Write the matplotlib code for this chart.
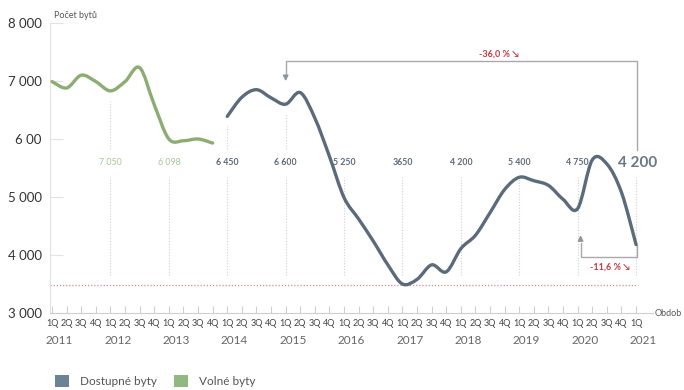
import matplotlib
matplotlib.use('Agg')
import matplotlib.pyplot as plt
from matplotlib.path import Path
from matplotlib.patches import PathPatch, Patch

plt.rcParams['font.family'] = ['Lato', 'DejaVu Sans']

# quarters 2011 Q1 (index 0) .. 2021 Q1 (index 40)
green_q = list(range(0, 12))
green_vals = [6990, 6880, 7100, 6990, 6830, 6990, 7230, 6590, 6000, 5970, 6000, 5930]
blue_q = list(range(12, 41))
blue_vals = [6390, 6720, 6850, 6710, 6600, 6800, 6360, 5700, 4990, 4620, 4240, 3830,
             3500, 3580, 3830, 3710, 4110, 4340, 4730, 5130, 5340, 5280, 5200, 4960,
             4800, 5640, 5570, 5080, 4180]

years = ['2011', '2012', '2013', '2014', '2015', '2016', '2017', '2018', '2019', '2020', '2021']
quarter_labels = (['1Q', '2Q', '3Q', '4Q'] * 10) + ['1Q']
yticks = [3000, 4000, 5000, 6000, 7000, 8000]
ytick_labels = ['3 000', '4 000', '5 000', '6 00', '7 000', '8 000']
note_q = [4, 8, 12, 16, 20, 24, 28, 32, 36, 40]
note_labels = ['7 050', '6 098', '6 450', '6 600', '5 250', '3650', '4 200', '5 400', '4 750', '4 200']

BLUE = '#5b6b7b'
GREEN = '#8cad72'
RED = '#c23a3f'


def smooth_path(xs, ys):
    # Catmull-Rom through the points, drawn as cubic Bezier segments
    pts = list(zip(xs, ys))
    verts = [pts[0]]
    codes = [Path.MOVETO]
    n = len(pts)
    for i in range(n - 1):
        p0 = pts[i - 1] if i > 0 else pts[i]
        p1 = pts[i]
        p2 = pts[i + 1]
        p3 = pts[i + 2] if i + 2 < n else pts[i + 1]
        c1 = (p1[0] + (p2[0] - p0[0]) / 6, p1[1] + (p2[1] - p0[1]) / 6)
        c2 = (p2[0] - (p3[0] - p1[0]) / 6, p2[1] - (p3[1] - p1[1]) / 6)
        verts += [c1, c2, p2]
        codes += [Path.CURVE4] * 3
    return Path(verts, codes)


fig = plt.figure(figsize=(6.84, 3.9), dpi=100)
ax = fig.add_axes([50 / 684, 77 / 390, 603 / 684, 290 / 390])
ax.set_xlim(-0.14, 41.16)
ax.set_ylim(3000, 8000)

for s in ['top', 'right']:
    ax.spines[s].set_visible(False)
ax.spines['left'].set_color('#e2e2e2')
ax.spines['bottom'].set_color('#cfcfcf')
ax.spines['left'].set_linewidth(0.8)
ax.spines['bottom'].set_linewidth(0.8)

ax.set_yticks(yticks, ytick_labels)
ax.tick_params(axis='y', direction='in', length=9, color='#e2e2e2', pad=6,
               labelsize=9.5, labelcolor='#333333')
ax.set_xticks(range(41), quarter_labels)
ax.tick_params(axis='x', direction='in', length=5, color='#cfcfcf', pad=4,
               labelsize=6.5, labelcolor='#444444')
for i, y in enumerate(years):
    ax.text(i * 4 + 0.5, 2530, y, ha='center', va='center', fontsize=8.5,
            color='#666666', clip_on=False)

ax.text(41.25, 3000, 'Obdob', ha='left', va='center', fontsize=6.5, color='#555555', clip_on=False)
ax.text(0.1, 8130, 'Počet bytů', ha='left', va='center', fontsize=6.5, color='#555555', clip_on=False)

# red dotted reference line
ax.plot([-0.14, 40.1], [3480, 3480], color='#d88a8a', lw=0.9, ls=(0, (1, 1.5)))

# dotted guide lines and value notes
all_q = green_q + blue_q
all_v = green_vals + blue_vals
for q, lab in zip(note_q, note_labels):
    ax.plot([q, q], [3650, 5350], color='#d0d0d0', lw=0.8, ls=(0, (1, 1.5)))
    v = all_v[all_q.index(q)]
    if v > 6000:
        ax.plot([q, q], [5830, v - 170], color='#d0d0d0', lw=0.8, ls=(0, (1, 1.5)))
    col = '#a8c494' if q < 12 else '#5d6b78'
    if q == 40:
        ax.text(q + 0.1, 5590, lab, ha='center', va='center', fontsize=11,
                color='#6a7785', fontweight='bold')
    else:
        ax.text(q, 5590, lab, ha='center', va='center', fontsize=6.3, color=col,
                fontweight='bold' if q >= 12 else 'normal')

# curves
ax.add_patch(PathPatch(smooth_path(green_q, green_vals), fill=False, edgecolor=GREEN,
                       lw=2.4, capstyle='round', zorder=3))
ax.add_patch(PathPatch(smooth_path(blue_q, blue_vals), fill=False, edgecolor=BLUE,
                       lw=2.4, capstyle='round', zorder=3))

# -36,0 % bracket
ax.plot([16, 16, 40.05, 40.05], [7100, 7345, 7345, 5810], color='#a9a9a9', lw=1)
ax.annotate('', xy=(16, 6950), xytext=(16, 7120),
            arrowprops=dict(arrowstyle='-|>', color='#8c96a0', lw=1, mutation_scale=8))
ax.text(30.6, 7470, '-36,0 % ↘', ha='center', va='center', fontsize=6.5, color=RED,
        fontweight='bold')

# -11,6 % bracket
ax.plot([36.2, 36.2, 40.05, 40.05], [4200, 3965, 3965, 4170], color='#a9a9a9', lw=1)
ax.annotate('', xy=(36.2, 4390), xytext=(36.2, 4200),
            arrowprops=dict(arrowstyle='-|>', color='#8c96a0', lw=1, mutation_scale=8))
ax.text(38.2, 3795, '-11,6 % ↘', ha='center', va='center', fontsize=6.5, color=RED,
        fontweight='bold')

handles = [Patch(facecolor='#6b8399', label='Dostupné byty'),
           Patch(facecolor='#8fb980', label='Volné byty')]
fig.legend(handles=handles, loc='lower left', bbox_to_anchor=(0.08, 0.008), ncol=2,
           frameon=False, fontsize=8.5, handlelength=1.2, handleheight=1.2,
           handletextpad=0.9, columnspacing=1.5, borderpad=0, borderaxespad=0,
           labelcolor='#555555')

fig.savefig('out.png', dpi=100)
